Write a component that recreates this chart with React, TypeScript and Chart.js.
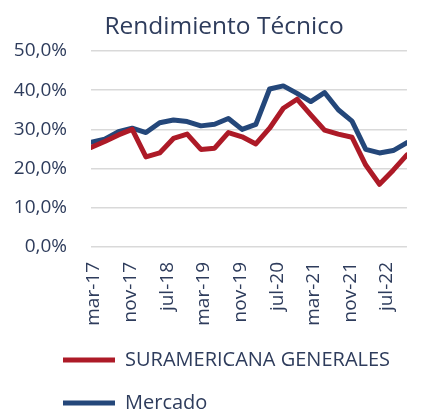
import React, { useEffect, useRef } from "react";
import { Chart, registerables } from "chart.js";

Chart.register(...registerables);

const categories = [
  "mar-17", "jun-17", "sep-17", "dic-17",
  "mar-18", "jun-18", "sep-18", "dic-18",
  "mar-19", "jun-19", "sep-19", "dic-19",
  "mar-20", "jun-20", "sep-20", "dic-20",
  "mar-21", "jun-21", "sep-21", "dic-21",
  "mar-22", "jun-22", "sep-22", "dic-22",
];

const suramericana = [
  25.4, 26.9, 28.6, 30.0, 23.0, 24.0, 27.7, 28.8, 24.9, 25.2, 29.2, 28.1,
  26.3, 30.3, 35.4, 37.7, 33.7, 29.8, 28.8, 28.0, 20.9, 16.0, 19.6, 23.5,
];

const mercado = [
  26.7, 27.5, 29.4, 30.3, 29.2, 31.7, 32.4, 32.0, 30.9, 31.3, 32.8, 30.0,
  31.3, 40.3, 41.1, 39.2, 37.1, 39.4, 35.0, 32.1, 24.9, 24.0, 24.6, 26.6,
];

const tickLabels = [
  "mar-17", "nov-17", "jul-18", "mar-19", "nov-19", "jul-20", "mar-21", "nov-21", "jul-22",
];

const yTicks = [0, 10, 20, 30, 40, 50];

const MONTHS = ["ene", "feb", "mar", "abr", "may", "jun", "jul", "ago", "sep", "oct", "nov", "dic"];
const monthIndex = (label: string) => {
  const [m, y] = label.split("-");
  return (parseInt(y, 10) - 17) * 12 + MONTHS.indexOf(m) - 2;
};

const TEXT = "#2e3c5c";
const RED = "#ad1a27";
const BLUE = "#24477a";
const FONT = "'Open Sans', sans-serif";

export default function App() {
  const ref = useRef<HTMLCanvasElement | null>(null);

  useEffect(() => {
    if (!ref.current) return;
    const shiftPlugin = {
      id: "shiftBlocks",
      afterLayout(chart: any) {
        const lg = chart.legend;
        if (lg) {
          lg.left += 40;
          lg.top += 10;
          lg.bottom += 10;
        }
        const tb = chart.titleBlock;
        if (tb) {
          tb.left += 28;
        }
        const xs = chart.scales.x;
        if (xs) {
          xs.bottom += 20;
        }
      },
    };
    const chart = new Chart(ref.current, {
      type: "line",
      data: {
        datasets: [
          {
            label: "SURAMERICANA GENERALES",
            data: suramericana.map((v, i) => ({ x: monthIndex(categories[i]), y: v })),
            borderColor: RED,
            backgroundColor: RED,
            borderWidth: 5,
            pointRadius: 0,
            tension: 0,
            borderJoinStyle: "round",
            borderCapStyle: "round",
          },
          {
            label: "Mercado",
            data: mercado.map((v, i) => ({ x: monthIndex(categories[i]), y: v })),
            borderColor: BLUE,
            backgroundColor: BLUE,
            borderWidth: 5,
            pointRadius: 0,
            tension: 0,
            borderJoinStyle: "round",
            borderCapStyle: "round",
          },
        ],
      },
      options: {
        animation: false,
        responsive: true,
        maintainAspectRatio: false,
        layout: { padding: { left: 0, right: 2, top: 0, bottom: 0 } },
        plugins: {
          title: {
            display: true,
            text: "Rendimiento Técnico",
            color: TEXT,
            font: { family: FONT, size: 24.5, weight: "normal" },
            padding: { top: 12, bottom: 9.6 },
          },
          legend: {
            position: "bottom",
            align: "start",
            labels: {
              color: TEXT,
              font: { family: FONT, size: 20 },
              usePointStyle: true,
              pointStyle: "line",
              pointStyleWidth: 52,
              boxWidth: 52,
              padding: 23,
            },
          },
          tooltip: { enabled: false },
        },
        scales: {
          x: {
            type: "linear",
            min: 0,
            max: monthIndex(categories[categories.length - 1]),
            grid: { display: false, drawTicks: false },
            border: { display: false },
            afterBuildTicks: (scale: any) => {
              scale.ticks = tickLabels.map((l) => ({ value: monthIndex(l) }));
            },
            afterFit: (scale: any) => {
              scale.height = 70;
            },
            ticks: {
              autoSkip: false,
              maxRotation: 90,
              minRotation: 90,
              padding: 15,
              labelOffset: 3,
              color: TEXT,
              font: { family: FONT, size: 19 },
              callback: (value: any) => {
                const idx = tickLabels.findIndex((l) => monthIndex(l) === value);
                return idx >= 0 ? tickLabels[idx] : "";
              },
            },
          },
          y: {
            min: 0,
            max: 50,
            grid: { color: "#d9d9d9", lineWidth: 1.5, drawTicks: false },
            border: { display: false },
            afterBuildTicks: (scale: any) => {
              scale.ticks = yTicks.map((v) => ({ value: v }));
            },
            afterFit: (scale: any) => {
              scale.width = 91;
            },
            ticks: {
              padding: 24,
              color: TEXT,
              font: { family: FONT, size: 19 },
              callback: (value: any) => Number(value).toFixed(1).replace(".", ",") + "%",
            },
          },
        },
      },
      plugins: [shiftPlugin],
    });
    return () => chart.destroy();
  }, []);

  return (
    <div style={{ position: "absolute", left: 0, top: 0, width: 422, height: 413 }}>
      <canvas ref={ref} />
    </div>
  );
}
